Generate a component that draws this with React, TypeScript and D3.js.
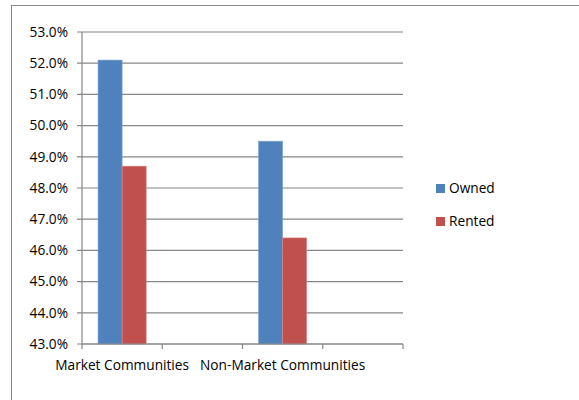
import React from "react";
import * as d3 from "d3";

const categories = ["Market Communities", "", "Non-Market Communities", ""];
const seriesNames = ["Owned", "Rented"];
const ownedValues = [52.1, null, 49.5, null];
const rentedValues = [48.7, null, 46.4, null];
const yTicks = [43, 44, 45, 46, 47, 48, 49, 50, 51, 52, 53];
const colors = ["#4F81BD", "#C0504D"];

const W = 579;
const H = 400;
const margin = { left: 82, top: 32, right: 176, bottom: 56 };
const FONT = "'Open Sans', sans-serif";
const FS = 13.7;

export default function App() {
  const x = d3
    .scaleBand<number>()
    .domain(d3.range(categories.length))
    .range([margin.left, W - margin.right])
    .paddingInner(0)
    .paddingOuter(0);
  const y = d3
    .scaleLinear()
    .domain([43, 53])
    .range([H - margin.bottom, margin.top]);
  const bw = x.bandwidth();
  const groupW = bw * 0.6;
  const sub = d3
    .scaleBand<number>()
    .domain([0, 1])
    .range([0, groupW]);
  const series = [ownedValues, rentedValues];
  const x0 = margin.left;
  const x1 = W - margin.right;
  const yBase = y(43);

  return (
    <svg
      width={W}
      height={H}
      style={{ position: "absolute", left: 0, top: 0 }}
      fontFamily={FONT}
    >
      <rect x={0} y={0} width={W} height={H} fill="#fff" />
      <rect
        x={11.5}
        y={5.5}
        width={W + 10}
        height={H + 10}
        fill="none"
        stroke="#898989"
        strokeWidth={1}
      />
      {yTicks.map((t) => (
        <g key={t}>
          <line
            x1={x0 - 5}
            x2={x1}
            y1={y(t)}
            y2={y(t)}
            stroke="#868686"
            strokeWidth={1.2}
          />
          <text
            x={68}
            y={y(t)}
            dy="0.35em"
            textAnchor="end"
            fontSize={FS}
            fill="#000"
          >
            {t.toFixed(1) + "%"}
          </text>
        </g>
      ))}
      {series.map((vals, si) =>
        vals.map((v, ci) =>
          v == null ? null : (
            <rect
              key={si + "-" + ci}
              x={(x(ci) as number) + (bw - groupW) / 2 + (sub(si) as number)}
              y={y(v)}
              width={sub.bandwidth()}
              height={yBase - y(v)}
              fill={colors[si]}
              stroke={si === 0 ? "#7fa3d0" : "#d98a88"}
              strokeWidth={0.6}
            />
          )
        )
      )}
      <line x1={x0} x2={x0} y1={margin.top} y2={yBase} stroke="#868686" strokeWidth={1.2} />
      <line x1={x0} x2={x1} y1={yBase} y2={yBase} stroke="#868686" strokeWidth={1.2} />
      {d3.range(categories.length + 1).map((i) => {
        const xx = x0 + i * bw;
        return (
          <line key={i} x1={xx} x2={xx} y1={yBase} y2={yBase + 5} stroke="#868686" strokeWidth={1.2} />
        );
      })}
      {categories.map((c, i) =>
        c ? (
          <text
            key={i}
            x={(x(i) as number) + bw / 2}
            y={365}
            dy="0.35em"
            textAnchor="middle"
            fontSize={FS}
            fill="#000"
          >
            {c}
          </text>
        ) : null
      )}
      {seriesNames.map((s, i) => (
        <g key={s} transform={`translate(436, ${184 + i * 33})`}>
          <rect x={0} y={0} width={9} height={9} fill={colors[i]} />
          <text x={13} y={4.5} dy="0.35em" fontSize={FS} fill="#000">
            {s}
          </text>
        </g>
      ))}
    </svg>
  );
}
